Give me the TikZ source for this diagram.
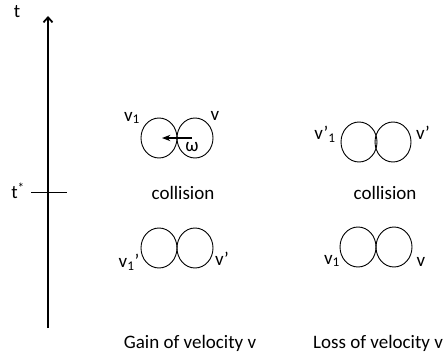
\documentclass[tikz,border=0pt]{standalone}
\usepackage{fontspec}
\setmainfont{Carlito}
\usepackage{tikz}
\usetikzlibrary{arrows.meta, positioning, shapes.geometric}

\begin{document}
\begin{tikzpicture}[x=1pt, y=-1pt, >=Stealth,
    ball/.style={draw, ellipse, minimum width=36pt, minimum height=40pt, inner sep=0pt, outer sep=0pt, line width=0.9pt},
    lbl/.style={inner sep=0pt, font=\fontsize{19}{22}\selectfont}]
    \useasboundingbox (0,0) rectangle (444,353);

    % time axis
    \coordinate (tbot) at (48,328);
    \coordinate (ttop) at (48,16);
    \draw[->, line width=1.8pt, >={Straight Barb[length=5pt, width=9pt]}] (tbot) -- (ttop);
    \coordinate (tickl) at (31,192);
    \coordinate (tickr) at (67,192);
    \draw[line width=0.9pt] (tickl) -- (tickr);
    \node (t) [lbl] at (17,12) {t};
    \node (tstar) [lbl] at (18,191) {t\textsuperscript{*}};

    % gain: before and after
    \node (g1) [ball] at (159,138) {};
    \node (g2) [ball, right=0pt of g1] {};
    \draw[->, line width=1.2pt, shorten <=3pt, shorten >=3pt] (g2.center) -- (g1.center);
    \node (gv1) [lbl] at (132,118) {v\textsubscript{1}};
    \node (gv) [lbl] at (215,116) {v};
    \node (gw) [lbl] at (192,147) {ω};
    \node (gcol) [lbl] at (183,193) {collision};

    \node (h1) [ball] at (159,248) {};
    \node (h2) [ball, right=0pt of h1] {};
    \node (hv1) [lbl] at (129,262) {v\textsubscript{1}’};
    \node (hv) [lbl] at (222,259) {v’};

    % loss: before and after
    \node (l1) [ball] at (359,142) {};
    \node (l2) [ball, right=-2pt of l1] {};
    \node (lv1) [lbl] at (325,134) {v’\textsubscript{1}};
    \node (lv) [lbl] at (423,133) {v'};
    \node (lcol) [lbl] at (385,193) {collision};

    \node (m1) [ball] at (358,247) {};
    \node (m2) [ball, right=0pt of m1] {};
    \node (mv1) [lbl] at (332,261) {v\textsubscript{1}};
    \node (mv) [lbl] at (421,262) {v};

    \node (gain) [lbl] at (190,343) {Gain of velocity v};
    \node (loss) [lbl] at (378,343) {Loss of velocity v};
\end{tikzpicture}
\end{document}
